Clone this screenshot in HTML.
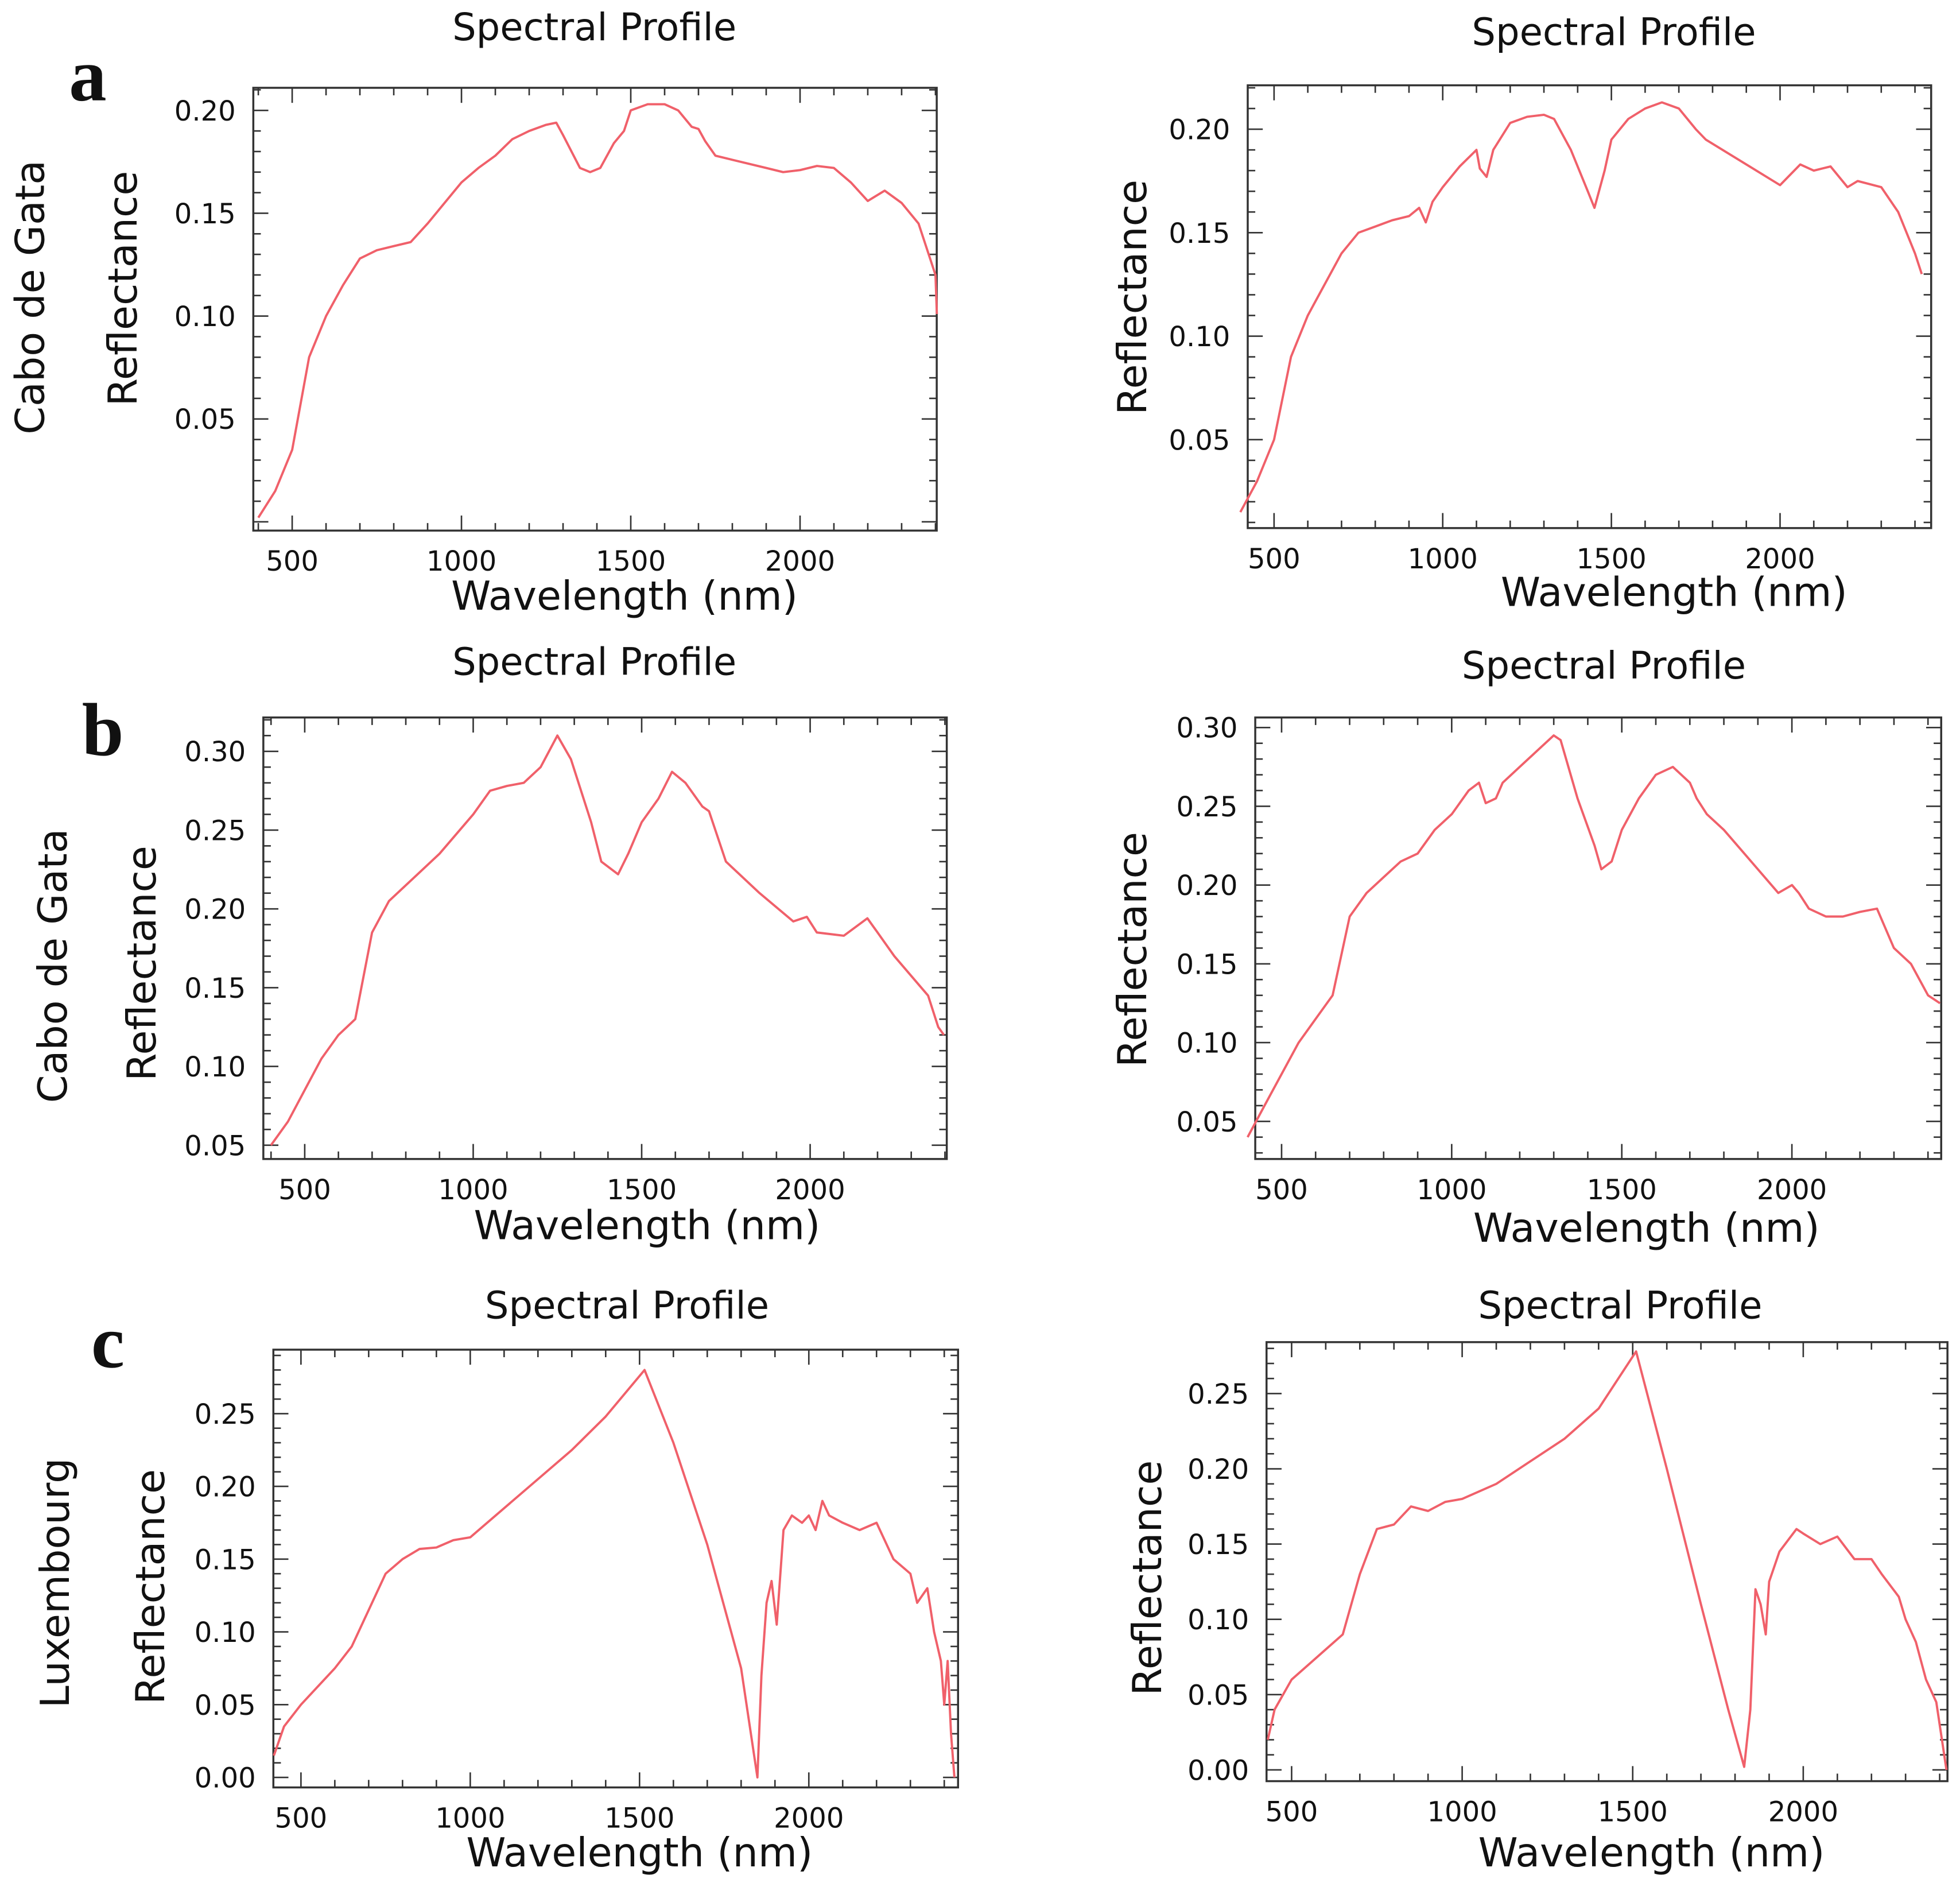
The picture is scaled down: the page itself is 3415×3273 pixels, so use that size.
<!DOCTYPE html>
<html><head><meta charset="utf-8">
<style>
html,body{margin:0;padding:0;background:#fff;}
svg{display:block;}
text{font-family:"DejaVu Sans","Liberation Sans",sans-serif;fill:#111;}
.lt{font-family:"Liberation Serif",serif;font-weight:bold;}
</style></head>
<body>
<svg id="fig" xmlns="http://www.w3.org/2000/svg" width="3415" height="3273" viewBox="0 0 1563 1498">
<rect width="1563" height="1498" fill="#fff"/>
</svg>
<script>
// Panel data: wavelengths (nm) and reflectance
const aLeftWl=[400,450,500,550,600,650,700,750,800,850,900,1000,1050,1100,1150,1200,1250,1280,1300,1350,1380,1410,1450,1480,1500,1550,1600,1640,1680,1700,1720,1750,1800,1900,1950,2000,2050,2100,2150,2200,2250,2300,2350,2400,2404];
const aLeftR=[.002,.015,.035,.08,.1,.115,.128,.132,.134,.136,.145,.165,.172,.178,.186,.19,.193,.194,.188,.172,.17,.172,.184,.19,.2,.203,.203,.2,.192,.191,.185,.178,.176,.172,.17,.171,.173,.172,.165,.156,.161,.155,.145,.12,.101];
const aRightWl=[400,450,500,550,600,650,700,750,800,850,900,930,950,970,1000,1050,1100,1110,1130,1150,1200,1250,1300,1330,1380,1430,1450,1480,1500,1550,1600,1650,1700,1750,1780,2000,2030,2060,2100,2150,2200,2230,2300,2350,2400,2420];
const aRightR=[.015,.03,.05,.09,.11,.125,.14,.15,.153,.156,.158,.162,.155,.165,.172,.182,.19,.181,.177,.19,.203,.206,.207,.205,.19,.17,.162,.18,.195,.205,.21,.213,.21,.2,.195,.173,.178,.183,.18,.182,.172,.175,.172,.16,.14,.13];
const bLeftWl=[400,450,500,550,600,650,700,750,800,900,1000,1050,1100,1150,1200,1250,1290,1350,1380,1430,1460,1500,1550,1590,1630,1680,1700,1750,1850,1950,1990,2020,2100,2170,2200,2250,2350,2380,2397];
const bLeftR=[.05,.065,.085,.105,.12,.13,.185,.205,.215,.235,.26,.275,.278,.28,.29,.31,.295,.255,.23,.222,.235,.255,.27,.287,.28,.265,.262,.23,.21,.192,.195,.185,.183,.194,.185,.17,.145,.125,.12];
const bRightWl=[400,450,500,550,600,650,700,750,800,850,900,950,1000,1050,1080,1100,1130,1150,1200,1250,1300,1320,1370,1420,1440,1470,1500,1550,1600,1650,1700,1720,1750,1800,1900,1960,2000,2020,2050,2100,2150,2200,2250,2270,2300,2350,2400,2435];
const bRightR=[.04,.06,.08,.1,.115,.13,.18,.195,.205,.215,.22,.235,.245,.26,.265,.252,.255,.265,.275,.285,.295,.292,.255,.225,.21,.215,.235,.255,.27,.275,.265,.255,.245,.235,.21,.195,.2,.195,.185,.18,.18,.183,.185,.175,.16,.15,.13,.125];
const cLeftWl=[420,450,500,600,650,700,750,800,850,900,950,1000,1100,1200,1300,1400,1515,1600,1700,1800,1848,1860,1875,1890,1905,1925,1950,1980,2000,2020,2040,2060,2100,2150,2200,2220,2250,2300,2320,2350,2370,2390,2400,2410,2420,2430];
const cLeftR=[.015,.035,.05,.075,.09,.115,.14,.15,.157,.158,.163,.165,.185,.205,.225,.248,.28,.23,.16,.075,.0,.07,.12,.135,.105,.17,.18,.175,.18,.17,.19,.18,.175,.17,.175,.165,.15,.14,.12,.13,.1,.08,.05,.08,.03,.0];
const cRightWl=[430,450,500,600,650,700,750,800,850,900,950,1000,1100,1200,1300,1400,1510,1600,1700,1780,1827,1845,1860,1875,1890,1900,1930,1980,2000,2050,2100,2150,2200,2230,2280,2300,2330,2360,2390,2410,2420];
const cRightR=[.02,.04,.06,.08,.09,.13,.16,.163,.175,.172,.178,.18,.19,.205,.22,.24,.278,.2,.11,.04,.002,.04,.12,.11,.09,.125,.145,.16,.157,.15,.155,.14,.14,.13,.115,.1,.085,.06,.045,.015,0];
const xTicks=[500,1000,1500,2000];
const yTicksA=[0.05,0.10,0.15,0.20];
const yTicksB=[0.05,0.10,0.15,0.20,0.25,0.30];
const yTicksC=[0.00,0.05,0.10,0.15,0.20,0.25];

const NS="http://www.w3.org/2000/svg";
const svg=document.getElementById('fig');
function mk(tag,attrs,parent){const e=document.createElementNS(NS,tag);for(const k in attrs)e.setAttribute(k,attrs[k]);(parent||svg).appendChild(e);return e;}

// panel: box, x calibration (px at 500, px per nm), y calibration (px at value y0, px per unit)
const panels=[
 {id:'a-left',box:[202,70,747,423],x500:233,xpn:0.27,yv:0.20,yp:88,ypu:1640,wl:aLeftWl,r:aLeftR,yt:yTicksA,title:[474,22],xl:[498,475],yl:[98,230]},
 {id:'a-right',box:[995,68,1540,421],x500:1016,xpn:0.269,yv:0.20,yp:103,ypu:1650,wl:aRightWl,r:aRightR,yt:yTicksA,title:[1287,26],xl:[1335,472],yl:[903,237]},
 {id:'b-left',box:[210,572,755,924],x500:243,xpn:0.2687,yv:0.30,yp:599,ypu:1256,wl:bLeftWl,r:bLeftR,yt:yTicksB,title:[474,528],xl:[516,977],yl:[113,768]},
 {id:'b-right',box:[1001,572,1548,924],x500:1022,xpn:0.2713,yv:0.30,yp:580,ypu:1256,wl:bRightWl,r:bRightR,yt:yTicksB,title:[1279,531],xl:[1313,979],yl:[903,757]},
 {id:'c-left',box:[218,1076,764,1425],x500:240,xpn:0.27,yv:0.00,yp:1417,ypu:1160,wl:cLeftWl,r:cLeftR,yt:yTicksC,title:[500,1041],xl:[510,1477],yl:[120,1265]},
 {id:'c-right',box:[1010,1070,1553,1420],x500:1030,xpn:0.272,yv:0.00,yp:1411,ypu:1200,wl:cRightWl,r:cRightR,yt:yTicksC,title:[1292,1041],xl:[1317,1477],yl:[915,1258]}
];

panels.forEach(p=>{
 const g=mk('g',{});
 
 
 const X=w=>p.x500+(w-500)*p.xpn, Y=v=>p.yp-(v-p.yv)*p.ypu;
 const [x0,y0,x1,y1]=p.box;
 const fr=mk('rect',{x:x0,y:y0,width:x1-x0,height:y1-y0,fill:'none',stroke:'#333','stroke-width':1.6},g);
 
 
 // x ticks every 100nm
 const wMin=500-(p.x500-x0)/p.xpn, wMax=500+(x1-p.x500)/p.xpn;
 for(let w=Math.ceil(wMin/100)*100;w<=wMax;w+=100){
  const L=(w%500===0)?12:6;const x=X(w);
  mk('line',{x1:x,y1:y1,x2:x,y2:y1-L,stroke:'#333','stroke-width':1.2},g);
  mk('line',{x1:x,y1:y0,x2:x,y2:y0+L,stroke:'#333','stroke-width':1.2},g);
 }
 const vMin=p.yv-(y1-p.yp)/p.ypu, vMax=p.yv+(p.yp-y0)/p.ypu;
 for(let k=Math.ceil(vMin*100-1e-6);k<=vMax*100+1e-6;k++){
  const L=(k%5===0)?12:6;const y=Y(k/100);
  mk('line',{x1:x0,y1:y,x2:x0+L,y2:y,stroke:'#333','stroke-width':1.2},g);
  mk('line',{x1:x1,y1:y,x2:x1-L,y2:y,stroke:'#333','stroke-width':1.2},g);
 }
 xTicks.forEach(w=>{const t=mk('text',{x:X(w),y:y1+32,'font-size':22,'text-anchor':'middle'},g);t.textContent=w;
  
  });
 p.yt.forEach(v=>{const t=mk('text',{x:x0-14,y:Y(v)+8,'font-size':22,'text-anchor':'end'},g);t.textContent=v.toFixed(2);
  
  });
 const d=p.wl.map((w,i)=>(i?'L':'M')+X(w).toFixed(1)+','+Y(p.r[i]).toFixed(1)).join(' ');
 const ln=mk('path',{d:d,fill:'none',stroke:'#f0606a','stroke-width':1.8,'stroke-linejoin':'round'},g);
 
 
 const tt=mk('text',{x:p.title[0],y:p.title[1]+10,'font-size':30,'text-anchor':'middle'},g);tt.textContent='Spectral Profile';
 
 
 const xl=mk('text',{x:p.xl[0],y:p.xl[1]+11,'font-size':32,'text-anchor':'middle'},g);xl.textContent='Wavelength (nm)';
 
 
 const yl=mk('text',{x:p.yl[0]+11,y:p.yl[1],'font-size':32,'text-anchor':'middle',transform:`rotate(-90 ${p.yl[0]+11} ${p.yl[1]})`},g);yl.textContent='Reflectance';
 
 
});

[['Cabo de Gata',24,237],['Cabo de Gata',42,770],['Luxembourg',44,1262]].forEach(s=>{
 const t=mk('text',{x:s[1]+11,y:s[2],'font-size':32,'text-anchor':'middle',transform:`rotate(-90 ${s[1]+11} ${s[2]})`});
 t.textContent=s[0];
 
 
});
[['a',70,80],['b',82,602],['c',86,1090]].forEach(s=>{
 const t=mk('text',{x:s[1],y:s[2],'font-size':60,'text-anchor':'middle','class':'lt'});
 t.textContent=s[0];
 
 
});
</script>
</body></html>
